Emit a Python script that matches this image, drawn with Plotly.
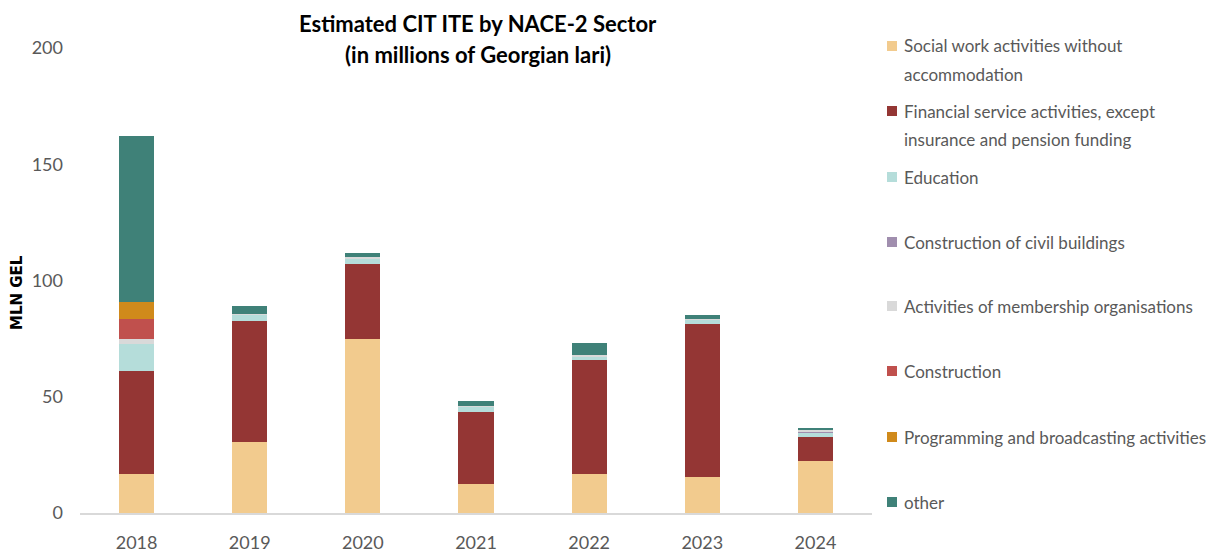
import plotly.graph_objects as go

years = ["2018", "2019", "2020", "2021", "2022", "2023", "2024"]

social = [16.6, 30.4, 74.9, 12.3, 16.6, 15.6, 22.5]
financial = [44.4, 52.1, 32.4, 31.3, 49.0, 65.8, 10.0]
education = [11.5, 2.8, 2.2, 2.0, 1.8, 1.8, 2.0]
civil_buildings = [0, 0, 0, 0, 0, 0, 0.6]
membership = [2.4, 0.3, 0.4, 0.5, 0.4, 0.2, 0.6]
construction = [8.5, 0, 0, 0, 0, 0, 0]
programming = [7.4, 0, 0, 0, 0, 0, 0]
other = [71.3, 3.3, 2.0, 2.2, 5.2, 1.6, 1.0]

series_names = [
    ["Social work activities without", "accommodation"],
    ["Financial service activities, except", "insurance and pension funding"],
    ["Education"],
    ["Construction of civil buildings"],
    ["Activities of membership organisations"],
    ["Construction"],
    ["Programming and broadcasting activities"],
    ["other"],
]
series_values = [social, financial, education, civil_buildings, membership,
                 construction, programming, other]
colors = ["#F2CB8E", "#943634", "#B5DDDA", "#A08EAE", "#D9D9D9",
          "#C0504D", "#D08A1B", "#3F8178"]

y_ticks = [0, 50, 100, 150, 200]

FONT = "Lato, Roboto, Liberation Sans, sans-serif"
GREY = "#595959"

# the page body has an 8px default margin; size the figure so that the
# visible window (1221x554) is filled exactly
OFF = 8
W, H = 1221 - OFF, 554 - OFF
# plot area bounds in window pixels
L, R, T, B = 80, 872, 48, 513


def px(x):
    return (x - L) / (R - L)


def py(y):
    return (B - y) / (B - T)


fig = go.Figure()
for names, vals, col in zip(series_names, series_values, colors):
    fig.add_trace(go.Bar(
        x=years, y=vals, name=" ".join(names),
        marker=dict(color=col, line=dict(width=0)),
        showlegend=False,
    ))

annotations = []
shapes = []
# manual legend
legend_y = [46, 111, 177, 242, 306, 371, 437, 502]
for names, col, y0 in zip(series_names, colors, legend_y):
    shapes.append(dict(type="rect", xref="paper", yref="paper",
                       x0=px(887), x1=px(897), y0=py(y0 + 5), y1=py(y0 - 5),
                       fillcolor=col, line=dict(width=0)))
    for i, line in enumerate(names):
        annotations.append(dict(
            text=line, xref="paper", yref="paper", x=px(902), y=py(y0 + 28 * i),
            xanchor="left", yanchor="middle", showarrow=False,
            font=dict(family=FONT, size=17, color=GREY)))

# title
for text, yc in [("Estimated CIT ITE by NACE-2 Sector", 23),
                 ("(in millions of Georgian lari)", 54)]:
    annotations.append(dict(
        text="<b>" + text + "</b>", xref="paper", yref="paper", x=px(478), y=py(yc),
        xanchor="center", yanchor="middle", showarrow=False, borderpad=0,
        font=dict(family=FONT, size=22, color="#000000")))

# y axis title
annotations.append(dict(
    text="<b>MLN GEL</b>", xref="paper", yref="paper", x=px(17), y=py(293),
    xanchor="center", yanchor="middle", showarrow=False, textangle=-90,
    font=dict(family="DejaVu Sans, sans-serif", size=15, color="#000000")))

fig.update_layout(
    barmode="stack",
    bargap=0.69,
    width=W, height=H,
    margin=dict(l=L - OFF, r=W - (R - OFF), t=T - OFF, b=H - (B - OFF), pad=0),
    paper_bgcolor="white", plot_bgcolor="white",
    annotations=annotations, shapes=shapes,
    font=dict(family=FONT, color=GREY, size=18),
    xaxis=dict(showline=True, linecolor="#D9D9D9", linewidth=1.5, automargin=False,
               ticks="", tickfont=dict(size=18, color=GREY), ticklabelstandoff=13),
    yaxis=dict(range=[0, 200], tickvals=y_ticks, showgrid=False, zeroline=False,
               showline=False, ticks="", tickfont=dict(size=18, color=GREY),
               ticklabelstandoff=16, automargin=False),
)

fig.write_html("out.html")
